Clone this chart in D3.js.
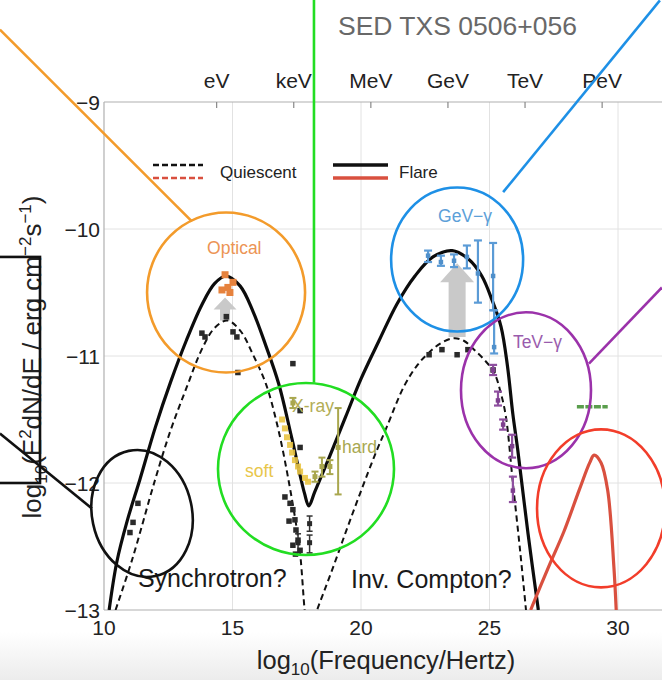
<!DOCTYPE html>
<html>
<head>
<meta charset="utf-8">
<script src="https://cdn.jsdelivr.net/npm/d3@7"></script>
<style>
  html, body { margin: 0; padding: 0; background: #fff; }
  svg { display: block; font-family: "Liberation Sans", Arial, sans-serif; }
</style>
</head>
<body>
<div id="chart"></div>
<script>
// SED TXS 0506+056

///////////////////////////////////////////
// Data
// every pair is [log10(nu / Hz), log10(E^2 dN/dE / erg cm^-2 s^-1)]

// model curves
const flareModel = [
  [10.2, -13.0], [10.5, -12.62], [10.9, -12.3], [11.4, -11.97], [12.0, -11.56],
  [12.6, -11.2], [13.2, -10.88], [13.8, -10.6], [14.3, -10.43], [14.75, -10.37],
  [15.3, -10.45], [15.8, -10.65], [16.3, -10.92], [16.8, -11.22], [17.3, -11.64],
  [17.8, -12.08], [17.97, -12.18], [18.2, -12.07], [18.8, -11.78], [19.4, -11.48],
  [20.0, -11.18], [20.7, -10.88], [21.4, -10.59], [22.1, -10.37], [22.8, -10.22],
  [23.55, -10.17], [24.2, -10.24], [24.7, -10.37], [25.1, -10.56], [25.45, -10.77],
  [25.7, -11.08], [25.91, -11.46], [26.1, -11.74], [26.5, -12.4], [26.9, -13.0]
];
const quiescentModel = [
  [10.45, -13.0], [11.1, -12.6], [11.98, -11.98], [12.6, -11.58], [13.23, -11.24],
  [13.8, -10.95], [14.3, -10.78], [14.8, -10.72], [15.3, -10.8], [15.8, -10.99],
  [16.3, -11.22], [16.75, -11.55], [17.2, -12.0], [17.6, -12.5], [17.97, -13.18],
  [18.29, -13.0], [18.83, -12.71], [19.6, -12.28], [20.5, -11.8], [21.0, -11.56],
  [21.67, -11.24], [22.2, -11.07], [22.61, -10.98], [23.1, -10.9], [23.62, -10.86],
  [24.0, -10.88], [24.4, -10.95], [24.8, -11.03], [25.18, -11.13], [25.45, -11.3],
  [25.64, -11.48], [25.91, -12.0], [26.2, -12.55], [26.42, -13.0]
];
const neutrinoModel = [
  [26.6, -13.0], [27.3, -12.66], [27.9, -12.38], [28.5, -12.05], [28.9, -11.84],
  [29.07, -11.78], [29.34, -11.84], [29.6, -12.06], [29.84, -12.66], [29.93, -13.0]
];

// quiescent measurements
const quiescentRadio = [[11.32, -12.16], [11.13, -12.31], [11.01, -12.39]];
const quiescentOptical = [
  [13.81, -10.82], [13.93, -10.85], [14.76, -10.69], [15.02, -10.81],
  [15.17, -10.85], [15.21, -11.13], [17.35, -11.06]
];
const quiescentXray = [
  [17.63, -11.43], [17.63, -11.72], [17.04, -12.11], [17.24, -12.16], [17.35, -12.21],
  [17.43, -12.29], [17.47, -12.37], [17.55, -12.45], [17.63, -12.53], [17.35, -12.49],
  [17.2, -12.3], [17.45, -12.56]
];
// [x, y, low, high]
const quiescentXrayErr = [
  [18.0, -12.32, -12.26, -12.38], [18.0, -12.47, -12.41, -12.55], [17.55, -12.47, -12.4, -12.55]
];
const quiescentGamma = [[22.65, -10.99], [23.15, -10.95], [23.74, -10.99], [24.16, -10.95], [25.14, -11.11]];

// flare measurements
const opticalFlare = [[14.71, -10.36], [15.02, -10.42], [14.82, -10.46], [14.59, -10.48], [14.9, -10.5]];
const softXray = [
  [16.93, -11.5], [17.04, -11.57], [17.12, -11.64], [17.24, -11.7], [17.32, -11.76],
  [17.43, -11.82], [17.55, -11.87], [17.63, -11.91], [17.82, -11.96], [17.94, -11.99]
];
const hardXray = [
  [17.35, -11.37, -11.33, -11.41], [18.21, -11.95, -11.91, -11.99], [18.48, -11.87, -11.8, -11.95],
  [18.79, -11.87, -11.82, -11.93], [19.11, -11.72, -11.41, -12.09]
];
const gevFlare = [
  [22.61, -10.21, -10.17, -10.26], [23.11, -10.26, -10.21, -10.29], [23.62, -10.25, -10.2, -10.3],
  [24.12, -10.22, -10.13, -10.31], [24.55, -10.35, -10.09, -10.58], [25.14, -10.37, -10.11, -10.64],
  [25.18, -10.93, -10.64, -10.98]
];
const tevFlare = [
  [25.14, -11.11, -11.07, -11.15], [25.33, -11.35, -11.28, -11.39], [25.53, -11.54, -11.5, -11.58],
  [25.88, -11.71, -11.62, -11.8], [25.91, -12.06, -11.95, -12.15]
];
// [from x, to x, y]
const neutrinoFlux = [28.4, 29.6, -11.4];
// gray "flare rise" arrows: [x, from y, to y]
const riseArrows = [[14.71, -10.72, -10.54], [23.74, -10.85, -10.27]];

// ticks
const xTicks = [10, 15, 20, 25, 30];
const yTicks = [-13, -12, -11, -10, -9];
const energyLabels = ["eV", "keV", "MeV", "GeV", "TeV", "PeV"];
const energyFreq = [14.383, 17.383, 20.383, 23.383, 26.383, 29.383];

///////////////////////////////////////////
// Layout
const W = 662, H = 680;
const x = d3.scaleLinear().domain([10, 30]).range([104, 618]);
const y = d3.scaleLinear().domain([-13, -9]).range([610, 102]);
const plotRight = W;

const svg = d3.select("#chart").append("svg").attr("width", W).attr("height", H);

// faint grey band at the bottom of the video frame
const grad = svg.append("defs").append("linearGradient")
  .attr("id", "band").attr("x1", 0).attr("y1", 0).attr("x2", 0).attr("y2", 1);
grad.append("stop").attr("offset", "0%").attr("stop-color", "#fff");
grad.append("stop").attr("offset", "100%").attr("stop-color", "#ececec");
svg.append("rect").attr("x", 0).attr("y", 632).attr("width", W).attr("height", H - 632).attr("fill", "url(#band)");

svg.select("defs").append("clipPath").attr("id", "plot-clip")
  .append("rect").attr("x", x(10)).attr("y", y(-9)).attr("width", plotRight - x(10)).attr("height", y(-13) - y(-9));

// grid
svg.append("g").selectAll("line").data(xTicks.slice(1)).join("line")
  .attr("x1", d => x(d)).attr("x2", d => x(d)).attr("y1", y(-9)).attr("y2", y(-13))
  .attr("stroke", "#e2e2e2").attr("stroke-width", 1);
svg.append("g").selectAll("line").data(yTicks.slice(1, -1)).join("line")
  .attr("x1", x(10)).attr("x2", plotRight).attr("y1", d => y(d)).attr("y2", d => y(d))
  .attr("stroke", "#e2e2e2").attr("stroke-width", 1);

// frame
const frame = svg.append("g").attr("stroke", "#b0b0b0").attr("stroke-width", 1.2);
frame.append("line").attr("x1", x(10)).attr("x2", x(10)).attr("y1", y(-9)).attr("y2", y(-13));
frame.append("line").attr("x1", x(10)).attr("x2", plotRight).attr("y1", y(-9)).attr("y2", y(-9));
frame.append("line").attr("x1", x(10)).attr("x2", plotRight).attr("y1", y(-13)).attr("y2", y(-13));

// top energy axis
svg.append("g").selectAll("line").data(energyFreq).join("line")
  .attr("x1", d => x(d)).attr("x2", d => x(d)).attr("y1", y(-9)).attr("y2", y(-9) + 6)
  .attr("stroke", "#888").attr("stroke-width", 1.2);
svg.append("g").selectAll("text").data(energyLabels).join("text")
  .attr("x", (d, i) => x(energyFreq[i])).attr("y", 88)
  .attr("text-anchor", "middle").attr("font-size", 21).attr("fill", "#222")
  .text(d => d);

// tick labels
svg.append("g").selectAll("text").data(xTicks).join("text")
  .attr("x", d => x(d)).attr("y", 635)
  .attr("text-anchor", "middle").attr("font-size", 21).attr("fill", "#222")
  .text(d => d);
svg.append("g").selectAll("text").data(yTicks).join("text")
  .attr("x", 100).attr("y", d => y(d)).attr("dy", "0.36em")
  .attr("text-anchor", "end").attr("font-size", 21).attr("fill", "#222")
  .text(d => "\u2212" + Math.abs(d));

// axis titles
const xTitle = svg.append("text").attr("x", 386).attr("y", 669)
  .attr("text-anchor", "middle").attr("font-size", 25.5).attr("fill", "#222");
xTitle.append("tspan").text("log");
xTitle.append("tspan").attr("font-size", 17).attr("dy", 6).text("10");
xTitle.append("tspan").attr("dy", -6).text("(Frequency/Hertz)");

const yTitle = svg.append("text").attr("transform", "translate(41,357) rotate(-90)")
  .attr("text-anchor", "middle").attr("font-size", 26).attr("fill", "#222");
yTitle.append("tspan").text("log");
yTitle.append("tspan").attr("font-size", 17).attr("dy", 6).text("10");
yTitle.append("tspan").attr("dy", -6).text("(E");
yTitle.append("tspan").attr("font-size", 17).attr("dy", -10).text("2");
yTitle.append("tspan").attr("dy", 10).text("dN/dE / erg cm");
yTitle.append("tspan").attr("font-size", 17).attr("dy", -10).text("\u22122");
yTitle.append("tspan").attr("dy", 10).text("s");
yTitle.append("tspan").attr("font-size", 17).attr("dy", -10).text("\u22121");
yTitle.append("tspan").attr("dy", 10).text(")");

// title
svg.append("text").attr("x", 338).attr("y", 35).attr("font-size", 26.5).attr("fill", "#686868")
  .text("SED TXS 0506+056");

////////////////////////////////
// Data layer
const plot = svg.append("g").attr("clip-path", "url(#plot-clip)");

// grey arrows (behind everything)
const arrowSize = [{ shaft: 10, head: 23, len: 12 }, { shaft: 17, head: 34, len: 19 }];
plot.append("g").selectAll("path").data(riseArrows).join("path")
  .attr("fill", "#c9c9c9")
  .attr("d", (d, i) => {
    const s = arrowSize[i];
    const cx = x(d[0]), y0 = y(d[1]), y1 = y(d[2]);
    return "M" + (cx - s.shaft / 2) + "," + y0 +
      "L" + (cx - s.shaft / 2) + "," + (y1 + s.len) +
      "L" + (cx - s.head / 2) + "," + (y1 + s.len) +
      "L" + cx + "," + y1 +
      "L" + (cx + s.head / 2) + "," + (y1 + s.len) +
      "L" + (cx + s.shaft / 2) + "," + (y1 + s.len) +
      "L" + (cx + s.shaft / 2) + "," + y0 + "Z";
  });

const line = d3.line().x(d => x(d[0])).y(d => y(d[1])).curve(d3.curveCatmullRom.alpha(0.5));

plot.append("path").datum(quiescentModel).attr("d", line)
  .attr("fill", "none").attr("stroke", "#111").attr("stroke-width", 2).attr("stroke-dasharray", "6,4");
plot.append("path").datum(flareModel).attr("d", line)
  .attr("fill", "none").attr("stroke", "#0c0c0c").attr("stroke-width", 3.2);
plot.append("path").datum(neutrinoModel).attr("d", line)
  .attr("fill", "none").attr("stroke", "#d9503f").attr("stroke-width", 3.2);

// neutrino flux bar
plot.append("line")
  .attr("x1", x(neutrinoFlux[0])).attr("x2", x(neutrinoFlux[1]))
  .attr("y1", y(neutrinoFlux[2])).attr("y2", y(neutrinoFlux[2]))
  .attr("stroke", "#5a9e4c").attr("stroke-width", 3.5).attr("stroke-dasharray", "7,1.5");

// error bars + markers
function errorBars(data, color, cap, width) {
  const g = plot.append("g").attr("stroke", color).attr("stroke-width", width);
  g.selectAll(".v").data(data).join("line").attr("class", "v")
    .attr("x1", d => x(d[0])).attr("x2", d => x(d[0])).attr("y1", d => y(d[2])).attr("y2", d => y(d[3]));
  g.selectAll(".lo").data(data).join("line").attr("class", "lo")
    .attr("x1", d => x(d[0]) - cap).attr("x2", d => x(d[0]) + cap).attr("y1", d => y(d[2])).attr("y2", d => y(d[2]));
  g.selectAll(".hi").data(data).join("line").attr("class", "hi")
    .attr("x1", d => x(d[0]) - cap).attr("x2", d => x(d[0]) + cap).attr("y1", d => y(d[3])).attr("y2", d => y(d[3]));
}
function squares(data, color, size, opacity) {
  plot.append("g").selectAll("rect").data(data).join("rect")
    .attr("x", d => x(d[0]) - size / 2).attr("y", d => y(d[1]) - size / 2)
    .attr("width", size).attr("height", size)
    .attr("fill", color).attr("opacity", opacity || 1);
}

squares(softXray, "#e9c443", 6, 0.9);
errorBars(hardXray, "#a9a74e", 3.5, 2);
squares(hardXray, "#a9a74e", 5);

errorBars(quiescentXrayErr, "#333", 3, 1.5);
squares(quiescentXrayErr, "#2a2a2a", 5);
squares(quiescentRadio, "#2a2a2a", 5.5);
squares(quiescentOptical, "#2a2a2a", 5.5);
squares(quiescentXray, "#2a2a2a", 5.5);
squares(quiescentGamma, "#2a2a2a", 5.5);

squares(opticalFlare, "#e6823d", 7);

errorBars(gevFlare, "#5b9bd6", 4, 2.2);
squares(gevFlare, "#4f8fca", 4.5);
errorBars(tevFlare, "#8e4f9f", 4, 2.2);
squares(tevFlare, "#7e3f8f", 4.5);

// data labels
const labels = [
  { t: "Optical", p: [14.01, -10.2], c: "#ec9454", s: 17.5 },
  { t: "GeV\u2212\u03b3", p: [23.0, -9.945], c: "#5ca0d8", s: 17.5 },
  { t: "TeV\u2212\u03b3", p: [25.91, -10.94], c: "#9a5cad", s: 17.5 },
  { t: "X-ray", p: [17.32, -11.44], c: "#b2ad55", s: 17.5 },
  { t: "soft", p: [15.49, -11.95], c: "#e8c64a", s: 17.5 },
  { t: "hard", p: [19.26, -11.76], c: "#a8a850", s: 17.5 },
  { t: "Synchrotron?", p: [11.32, -12.82], c: "#1a1a1a", s: 25 },
  { t: "Inv. Compton?", p: [19.61, -12.83], c: "#1a1a1a", s: 25 }
];
svg.append("g").selectAll("text").data(labels).join("text")
  .attr("x", d => x(d.p[0])).attr("y", d => y(d.p[1]))
  .attr("font-size", d => d.s).attr("fill", d => d.c)
  .text(d => d.t);

// legend
const legend = svg.append("g");
legend.append("line").attr("x1", 153).attr("x2", 203).attr("y1", 165).attr("y2", 165)
  .attr("stroke", "#111").attr("stroke-width", 2.5).attr("stroke-dasharray", "6,3");
legend.append("line").attr("x1", 153).attr("x2", 203).attr("y1", 178).attr("y2", 178)
  .attr("stroke", "#d9503f").attr("stroke-width", 2.5).attr("stroke-dasharray", "6,3");
legend.append("text").attr("x", 220).attr("y", 178).attr("font-size", 17).attr("fill", "#222").text("Quiescent");
legend.append("line").attr("x1", 333).attr("x2", 388).attr("y1", 165).attr("y2", 165)
  .attr("stroke", "#111").attr("stroke-width", 3.5);
legend.append("line").attr("x1", 333).attr("x2", 388).attr("y1", 178).attr("y2", 178)
  .attr("stroke", "#d9503f").attr("stroke-width", 3.5);
legend.append("text").attr("x", 399).attr("y", 178).attr("font-size", 17).attr("fill", "#222").text("Flare");

////////////////////////////////
// Hand-drawn call-outs on top of the plot
const callouts = [
  { c: "#f39b2b", at: [14.75, -10.5], rx: 79, ry: 80, rot: 0, from: [13.42, -9.94], to: [5.95, -8.43] },
  { c: "#1e90e6", at: [23.74, -10.24], rx: 66, ry: 72, rot: 0, from: [25.53, -9.71], to: [31.63, -8.2] },
  { c: "#22dd22", at: [17.86, -11.89], rx: 88, ry: 86, rot: 0, from: [18.17, -11.21], to: [18.17, -8.1] },
  { c: "#9b32aa", at: [26.42, -11.27], rx: 65, ry: 78, rot: 0, from: [28.87, -11.06], to: [31.71, -10.46] },
  { c: "#f23d2a", at: [29.34, -12.2], rx: 64, ry: 79, rot: 0, from: null, to: null },
  { c: "#111111", at: [11.48, -12.24], rx: 50, ry: 64, rot: -12, from: [9.53, -12.2], to: [5.95, -11.61] }
];
const co = svg.append("g").attr("fill", "none").attr("stroke-width", 2.6);
co.selectAll("ellipse").data(callouts).join("ellipse")
  .attr("transform", d => "translate(" + x(d.at[0]) + "," + y(d.at[1]) + ") rotate(" + d.rot + ")")
  .attr("rx", d => d.rx).attr("ry", d => d.ry).attr("stroke", d => d.c);
co.selectAll("line").data(callouts.filter(d => d.from)).join("line")
  .attr("x1", d => x(d.from[0])).attr("y1", d => y(d.from[1]))
  .attr("x2", d => x(d.to[0])).attr("y2", d => y(d.to[1]))
  .attr("stroke", d => d.c);

// black box at the left edge
co.append("rect")
  .attr("x", x(5.75)).attr("y", y(-10.22))
  .attr("width", x(7.51) - x(5.75)).attr("height", y(-12.0) - y(-10.22))
  .attr("stroke", "#111");
</script>
</body>
</html>
